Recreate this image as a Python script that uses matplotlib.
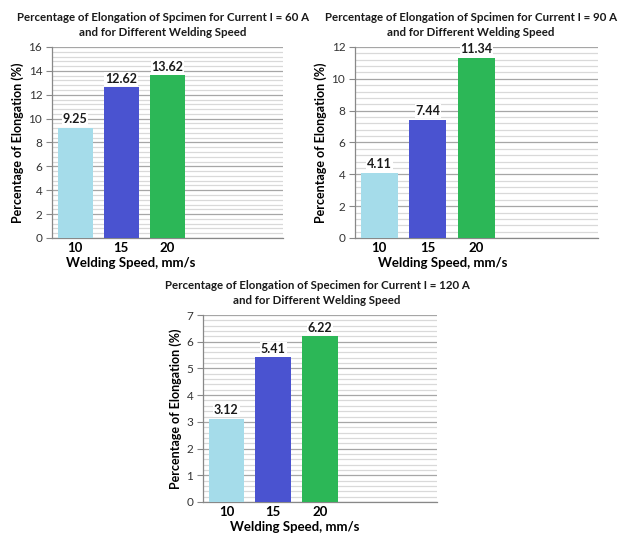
import matplotlib.pyplot as plt
from matplotlib.ticker import MultipleLocator

plt.rcParams['font.family'] = ['Lato', 'DejaVu Sans']

# welding speeds (mm/s) and elongation (%) for each current
speeds = ['10', '15', '20']
elong_60 = [9.25, 12.62, 13.62]
elong_90 = [4.11, 7.44, 11.34]
elong_120 = [3.12, 5.41, 6.22]

titles = ['Percentage of Elongation of Spcimen for Current I = 60 A\nand for Different Welding Speed',
          'Percentage of Elongation of Spcimen for Current I = 90 A\nand for Different Welding Speed',
          'Percentage of Elongation of Specimen for Current I = 120 A\nand for Different Welding Speed']
ymax = [16, 12, 7]
ystep = [2, 2, 1]

bar_colors = ['#a5dcea', '#4a53d0', '#2cb757']

W, H = 627, 533
fig = plt.figure(figsize=(W / 100, H / 100), dpi=100)

# axes boxes in pixels: left, top, right, bottom
boxes = [(52, 47, 283, 238), (355, 47, 598, 238), (203, 315, 437, 502)]
title_y = [25, 25, 293]
title_x = [163, 471, 317]
xlab_pos = [(0.34, -0.13), (0.36, -0.13), (0.39, -0.135)]


def draw_chart(box, values, title, top, step, tx, ty, xlab):
    l, t, r, b = box
    ax = fig.add_axes([l / W, 1 - b / H, (r - l) / W, (b - t) / H])
    x = list(range(len(values)))
    ax.bar(x, values, width=0.76, color=bar_colors, zorder=3)
    for xi, v in zip(x, values):
        ax.text(xi, v + top * 0.012, f'{v:.2f}', ha='center', va='bottom',
                fontsize=9, fontweight='bold', color='#1a1a1a', zorder=4,
                bbox=dict(facecolor='white', edgecolor='none', pad=0.6))
    ax.set_xlim(-0.5, 4.5)
    ax.set_ylim(0, top)
    ax.yaxis.set_major_locator(MultipleLocator(step))
    ax.yaxis.set_minor_locator(MultipleLocator(step / 5))
    ax.grid(axis='y', which='major', color='#a6a6a6', lw=0.9, zorder=0)
    ax.grid(axis='y', which='minor', color='#d9d9d9', lw=0.9, zorder=0)
    ax.set_xticks(x)
    ax.set_xticklabels(speeds, fontsize=9.5, fontweight='bold')
    ax.tick_params(axis='x', length=0, pad=3)
    ax.tick_params(axis='y', which='major', length=4, color='#888888',
                   labelsize=8.5, labelcolor='#333333', pad=3)
    ax.tick_params(axis='y', which='minor', length=0)
    for s in ['top', 'right']:
        ax.spines[s].set_visible(False)
    for s in ['left', 'bottom']:
        ax.spines[s].set_color('#888888')
        ax.spines[s].set_linewidth(0.9)
    ax.set_xlabel('Welding Speed, mm/s', fontsize=9.5, fontweight='bold', va='center')
    ax.xaxis.set_label_coords(*xlab)
    ax.set_ylabel('Percentage of Elongation (%)', fontsize=9, fontweight='bold', labelpad=3)
    fig.text(tx / W, 1 - ty / H, title, ha='center', va='center',
             fontsize=8.3, fontweight='bold', linespacing=1.45, color='#1a1a1a',
             zorder=10)
    return ax


for i, vals in enumerate([elong_60, elong_90, elong_120]):
    draw_chart(boxes[i], vals, titles[i], ymax[i], ystep[i],
               title_x[i], title_y[i], xlab_pos[i])

fig.savefig('out.png', dpi=100)
